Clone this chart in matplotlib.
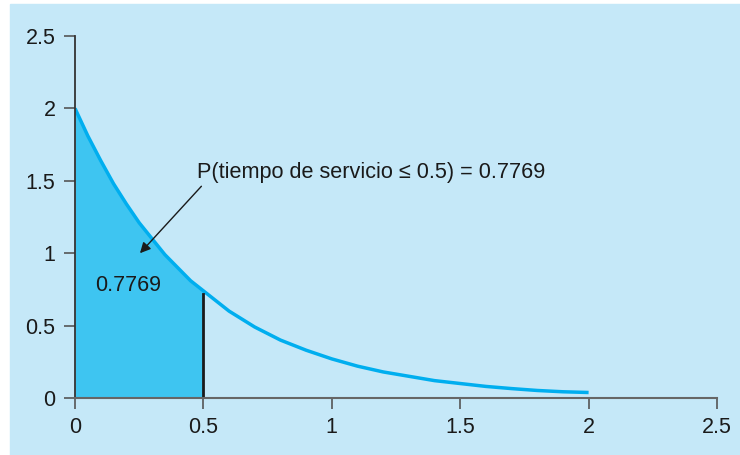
import numpy as np
import matplotlib.pyplot as plt
from matplotlib.patches import Rectangle

plt.rcParams['font.family'] = ['Liberation Sans', 'DejaVu Sans']

# densidad
x_vals = [0.0, 0.05, 0.1, 0.15, 0.2, 0.25, 0.3, 0.35, 0.4, 0.45, 0.5,
          0.55, 0.6, 0.65, 0.7, 0.75, 0.8, 0.85, 0.9, 0.95, 1.0,
          1.05, 1.1, 1.15, 1.2, 1.25, 1.3, 1.35, 1.4, 1.45, 1.5,
          1.6, 1.7, 1.8, 1.9, 2.0]
y_vals = [2.00, 1.81, 1.64, 1.48, 1.34, 1.21, 1.10, 0.99, 0.90, 0.81, 0.74,
          0.67, 0.60, 0.545, 0.49, 0.445, 0.40, 0.365, 0.33, 0.30, 0.27,
          0.245, 0.22, 0.20, 0.18, 0.165, 0.15, 0.135, 0.12, 0.11, 0.10,
          0.08, 0.065, 0.052, 0.043, 0.038]
corte = 0.5
prob = '0.7769'
ticks = [0, 0.5, 1, 1.5, 2, 2.5]
tick_labels = ['0', '0.5', '1', '1.5', '2', '2.5']

bg = '#c5e8f8'
fill_c = '#3ec5f1'
line_c = '#00aeef'

fig = plt.figure(figsize=(7.4, 4.55), dpi=100)
fig.patches.append(Rectangle((10 / 740, 0), 1 - 10 / 740, 1 - 4 / 455,
                             transform=fig.transFigure, color=bg, zorder=-10))
ax = fig.add_axes([75 / 740, 1 - 398 / 455, 642 / 740, 362 / 455])
ax.set_facecolor('none')

x = np.array(x_vals)
y = np.array(y_vals)
mask = x <= corte
ax.fill_between(x[mask], 0, y[mask], color=fill_c, lw=0)
ax.plot(x, y, color=line_c, lw=2.5, solid_capstyle='butt',
        solid_joinstyle='round')
ax.plot([corte, corte], [0, y[x == corte][0] - 0.02], color='#1a1a1a', lw=2)

ax.set_xlim(0, 2.5)
ax.set_ylim(0, 2.5)
ax.set_xticks(ticks)
ax.set_yticks(ticks)
ax.set_xticklabels(tick_labels)
ax.set_yticklabels(tick_labels)
ax.tick_params(direction='out', length=8, width=1.2, colors='#555555',
               labelcolor='#1a1a1a', labelsize=15.5, pad=6)
for s in ['top', 'right']:
    ax.spines[s].set_visible(False)
ax.spines['left'].set_color('#333333')
ax.spines['bottom'].set_color('#666666')
ax.spines['left'].set_linewidth(1.3)
ax.spines['bottom'].set_linewidth(1.5)

ax.text(0.078, 0.78, prob, fontsize=15.5, color='#1a1a1a', va='center')
ax.annotate('P(tiempo de servicio \u2264 0.5) = ' + prob,
            xy=(0.253, 1.0), xytext=(0.475, 1.554),
            fontsize=15.6, color='#1a1a1a', va='center',
            arrowprops=dict(arrowstyle='-|>', color='#1a1a1a', lw=1,
                            shrinkA=0, shrinkB=0,
                            relpos=(0.02, 0.0)))

plt.savefig('out.png', dpi=100, facecolor='white')
